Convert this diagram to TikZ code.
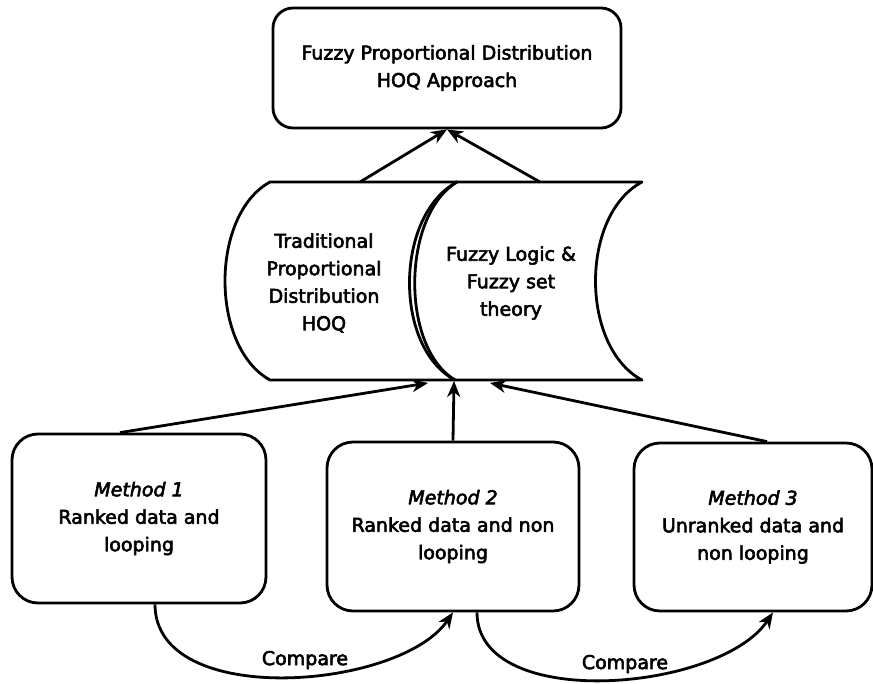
\documentclass[tikz,border=0pt]{standalone}
\usepackage{fontspec}
\setmainfont{DejaVu Sans}[FakeBold=3]
\usetikzlibrary{arrows.meta,calc}
\tikzset{
  every picture/.style={line width=2.8pt, line join=round},
  rbox/.style={draw, rounded corners=26pt, align=center, inner sep=0pt,
               font=\fontsize{19}{27.5}\selectfont},
  label/.style={align=center, inner sep=0pt, font=\fontsize{19}{27.5}\selectfont},
  arr/.style={-{Stealth[length=16pt,width=13pt,inset=5pt]}},
}
\begin{document}
\begin{tikzpicture}[x=1pt,y=-1pt]
\useasboundingbox (0,0) rectangle (873,684);

% result box
\node[rbox, rounded corners=20pt, minimum width=348pt, minimum height=120pt]
  (top) at (447,68) {Fuzzy Proportional Distribution\\HOQ Approach};

% the two stored-data shapes
\draw (270,182) -- (457,182)
      .. controls (402,215) and (400,347) .. (455,380)
      -- (270,380)
      .. controls (210,347) and (210,215) .. (270,182) -- cycle;
\draw (457,182) -- (642,182)
      .. controls (580,215) and (580,347) .. (642,380)
      -- (455,380)
      .. controls (393,347) and (395,215) .. (457,182) -- cycle;
\node[label] (trad) at (324,283) {Traditional\\Proportional\\Distribution\\HOQ};
\node[label] (fuzzy) at (511,283) {Fuzzy Logic \&\\Fuzzy set\\theory};

\coordinate (s1top) at (360,182);
\coordinate (s2top) at (540,182);
\coordinate (joinL) at (428,383);
\coordinate (joinM) at (454,381);
\coordinate (joinR) at (490,383);

% method boxes
\node[rbox, minimum width=254pt, minimum height=169pt]
  (m1) at (139,518.5) {\textit{Method 1}\\Ranked data and\\looping};
\node[rbox, minimum width=252pt, minimum height=169pt]
  (m2) at (453,526.5) {\textit{Method 2}\\Ranked data and non\\looping};
\node[rbox, minimum width=238pt, minimum height=168pt]
  (m3) at (753,527) {\textit{Method 3}\\Unranked data and\\non looping};

% connectors
\draw[arr] (s1top) -- (top.south);
\draw[arr] (s2top) -- (top.south);
\draw[arr] ([xshift=-19pt]m1.north) -- (joinL);
\draw[arr] (m2.north) -- (joinM);
\draw[arr] ([xshift=14pt]m3.north) -- (joinR);

\draw[arr] ([xshift=16pt]m1.south)
   .. controls ([xshift=16pt,yshift=-105pt]m1.south) and (400,690) .. (m2.south);
\draw[arr] ([xshift=24pt]m2.south)
   .. controls ([xshift=24pt,yshift=-100pt]m2.south) and (720,692) .. ([xshift=20pt]m3.south);

\node[label] (cmp1) at (305,660) {Compare};
\node[label] (cmp2) at (625,664) {Compare};
\end{tikzpicture}
\end{document}
